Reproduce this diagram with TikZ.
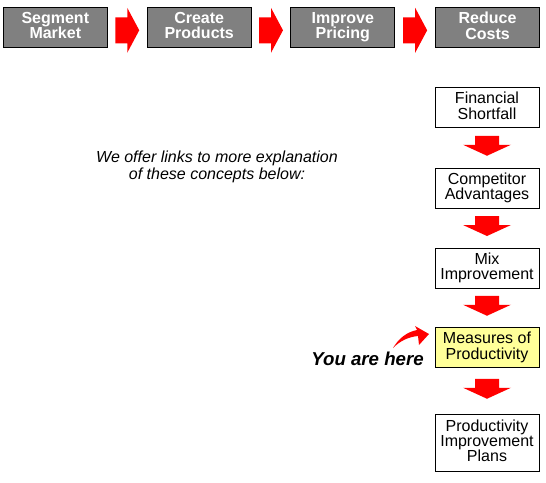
\documentclass[tikz,border=0pt]{standalone}
\usepackage{fontspec}
\setmainfont{Liberation Sans}
\usepackage{tikz}
\usetikzlibrary{positioning, calc}

\definecolor{stepgray}{HTML}{808080}
\definecolor{arrowred}{HTML}{FF0000}
\definecolor{hereyellow}{HTML}{FFFF99}

\begin{document}
\begin{tikzpicture}[
  x=0.75pt, y=-0.75pt,
  evenlines/.style={execute at end node={\vphantom{g}}},
  topbox/.style={draw=black, line width=0.8pt, fill=stepgray, text=white,
                 minimum width=78pt, minimum height=30pt, inner sep=0pt,
                 align=center, evenlines,
                 font=\fontsize{12}{11.5}\selectfont\bfseries},
  colbox/.style={draw=black, line width=0.6pt, fill=white,
                 minimum width=78pt, minimum height=30pt, inner sep=0pt,
                 align=center, evenlines,
                 font=\fontsize{12}{11.5}\selectfont},
  rarr/.pic={\fill[arrowred] (-12,-13) -- (0,-13) -- (0,-22.5) -- (12,0)
               -- (0,22.5) -- (0,13) -- (-12,13) -- cycle;},
  darr/.pic={\fill[arrowred] (-12,-10) -- (12,-10) -- (12,-1) -- (24,-1)
               -- (0,10) -- (-24,-1) -- (-12,-1) -- cycle;}
]
  \useasboundingbox (0,0) rectangle (546,482);

  % top row
  \node[topbox] (seg) at (55.3, 27.3)  {Segment\\Market};
  \node[topbox] (cre) at (199.2, 27.3) {Create\\Products};
  \node[topbox] (imp) at (342.8, 27.3) {Improve\\Pricing};
  \node[topbox] (red) at (487.5, 27.3) {Reduce\\Costs};

  \pic at ($(seg.east)!.5!(cre.west)+(0,3)$) {rarr};
  \pic at ($(cre.east)!.5!(imp.west)+(0,3)$) {rarr};
  \pic at ($(imp.east)!.5!(red.west)+(0,3)$) {rarr};

  % right column
  \node[colbox] (fin)  at (487, 107.5) {Financial\\Shortfall};
  \node[colbox] (comp) at (487, 188)  {Competitor\\Advantages};
  \node[colbox] (mix)  at (487, 268)  {Mix\\Improvement};
  \node[colbox, fill=hereyellow] (meas) at (487, 347.5) {Measures of\\Productivity};
  \node[colbox, minimum height=42.75pt] (pip) at (487, 442.5) {Productivity\\Improvement\\Plans};

  \pic at ($(fin.south)!.5!(comp.north)+(0,-2)$)  {darr};
  \pic at ($(comp.south)!.5!(mix.north)+(0,-2)$)  {darr};
  \pic at ($(mix.south)!.5!(meas.north)+(0,-2)$)  {darr};
  \pic at ($(meas.south)!.5!(pip.north)+(0,-2)$)  {darr};

  % notes
  \node[align=center, font=\fontsize{12}{12.5}\selectfont\itshape] (note) at (217, 167)
    {We offer links to more explanation\\of these concepts below:};
  \node[anchor=east, inner sep=0pt, font=\fontsize{14}{16}\selectfont\bfseries\itshape] (here)
    at (424, 359) {You are here};

  % curved pointer
  \fill[arrowred] (393,348) .. controls (399,338) and (407,332) .. (417,330)
    -- (415,326) -- (429,334) -- (419,345) -- (418,336)
    .. controls (408,337) and (400,341) .. cycle;
\end{tikzpicture}
\end{document}
